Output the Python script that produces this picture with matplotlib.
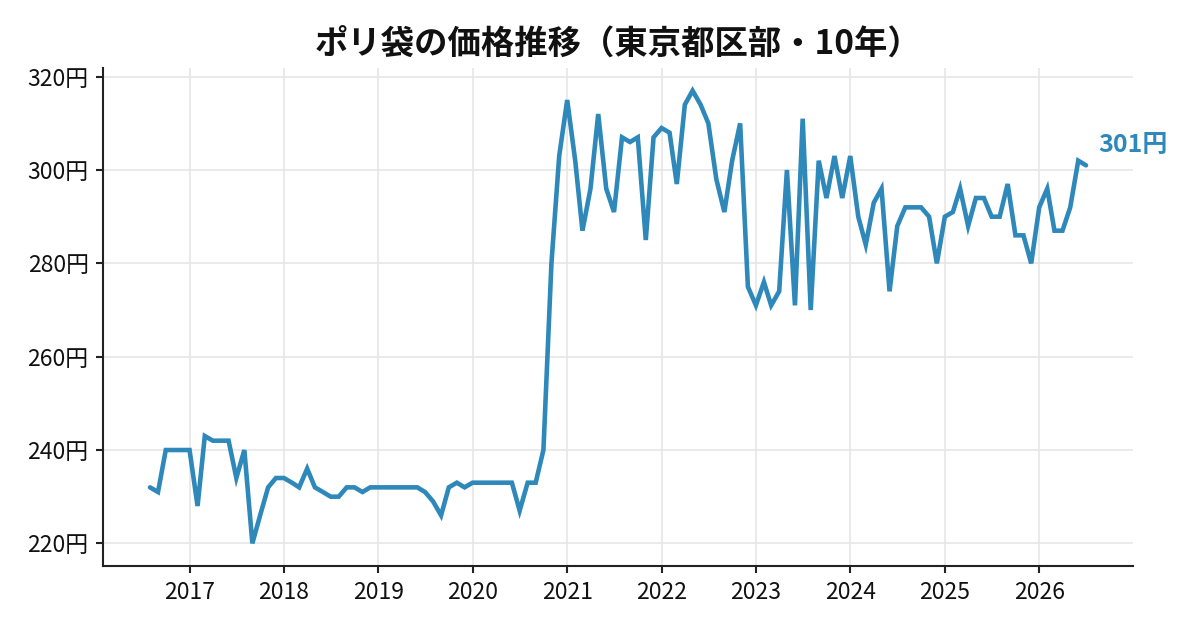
import matplotlib
matplotlib.use("Agg")
import matplotlib.pyplot as plt
import matplotlib.dates as mdates
import pandas as pd

plt.rcParams['font.family'] = ['Noto Sans CJK JP', 'DejaVu Sans']

start_month = "2016-08-01"
prices = [
    # 2016 Aug-Dec
    232, 231, 240, 240, 240,
    # 2017
    240, 228, 243, 242, 242, 242, 234, 240, 220, 226, 232, 234,
    # 2018
    234, 233, 232, 236, 232, 231, 230, 230, 232, 232, 231, 232,
    # 2019
    232, 232, 232, 232, 232, 232, 231, 229, 226, 232, 233, 232,
    # 2020
    233, 233, 233, 233, 233, 233, 227, 233, 233, 240, 280, 303,
    # 2021
    315, 302, 287, 296, 312, 296, 291, 307, 306, 307, 285, 307,
    # 2022
    309, 308, 297, 314, 317, 314, 310, 298, 291, 302, 310, 275,
    # 2023
    271, 276, 271, 274, 300, 271, 311, 270, 302, 294, 303, 294,
    # 2024
    303, 290, 284, 293, 296, 274, 288, 292, 292, 292, 290, 280,
    # 2025
    290, 291, 296, 288, 294, 294, 290, 290, 297, 286, 286, 280,
    # 2026 Jan-Jul
    292, 296, 287, 287, 292, 302, 301,
]
dates = pd.date_range(start_month, periods=len(prices), freq="MS")
y_ticks = [220, 240, 260, 280, 300, 320]
title = "ポリ袋の価格推移（東京都区部・10年）"
color = "#2E89BA"

fig = plt.figure(figsize=(8, 4.2), dpi=150)
ax = fig.add_axes([0.086, 0.1016, 0.858, 0.7904])

ax.plot(dates, prices, color=color, linewidth=2.2, solid_capstyle="round", solid_joinstyle="miter")

ax.set_yticks(y_ticks)
ax.set_yticklabels([f"{v}円" for v in y_ticks])
ax.xaxis.set_major_locator(mdates.YearLocator())
ax.xaxis.set_major_formatter(mdates.DateFormatter("%Y"))
ax.tick_params(labelsize=11, colors="#222222", length=3.5, width=1)
for lab in ax.get_xticklabels() + ax.get_yticklabels():
    lab.set_color("#111111")

ax.grid(True, color="#e6e6e6", linewidth=0.8)
ax.set_axisbelow(True)
for s in ["top", "right"]:
    ax.spines[s].set_visible(False)
for s in ["left", "bottom"]:
    ax.spines[s].set_color("#222222")
    ax.spines[s].set_linewidth(1.0)

ax.annotate(f"{prices[-1]}円", xy=(dates[-1], prices[-1]), xytext=(6, 10),
            textcoords="offset points", ha="left", va="center",
            color=color, fontsize=12, fontweight="bold")

ax.set_title(title, fontsize=16, fontweight="bold", pad=7, color="#111111")

fig.savefig("out.png", dpi=150)
